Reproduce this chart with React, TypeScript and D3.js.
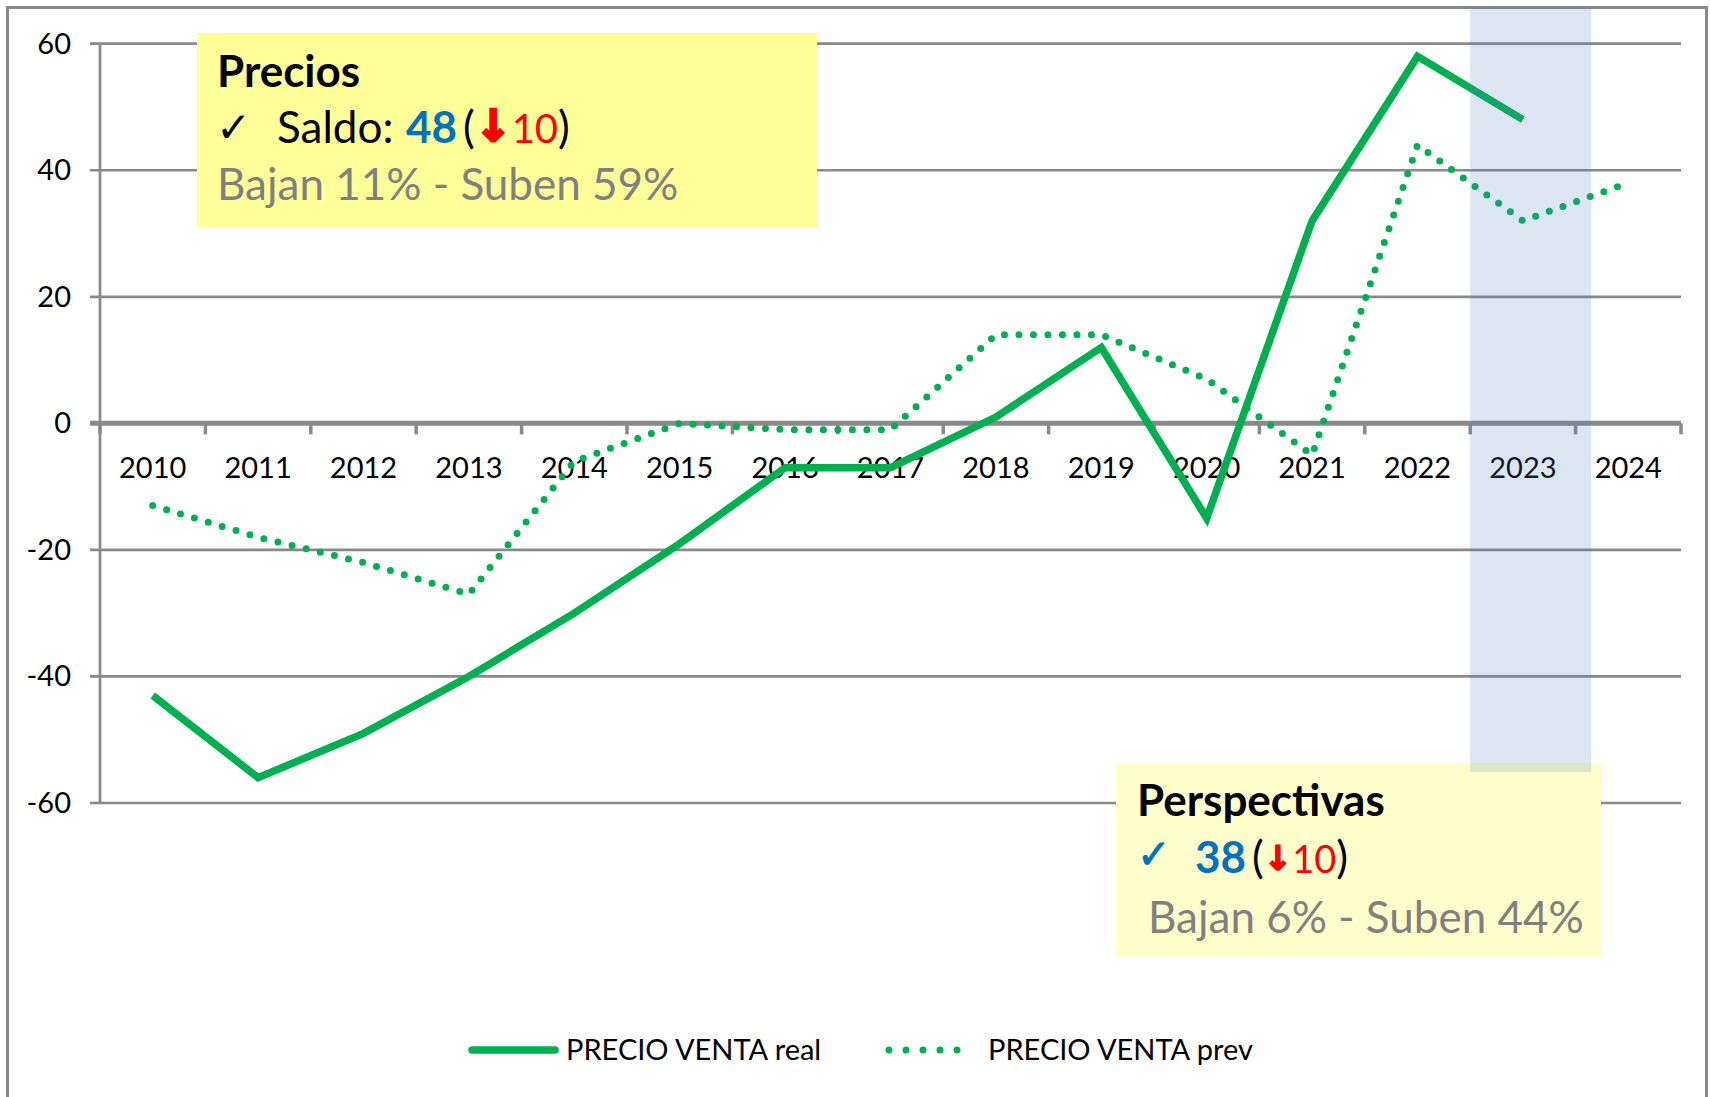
import * as d3 from 'd3';

// categories and series
const years = ['2010', '2011', '2012', '2013', '2014', '2015', '2016', '2017', '2018', '2019', '2020', '2021', '2022', '2023', '2024'];
const realValues: (number | null)[] = [-43, -56, -49, -40, -30, -19, -7, -7, 1, 12, -15, 32, 58, 48, null];
const prevValues: (number | null)[] = [-13, -18, -22, -27, -6, 0, -1, -1, 14, 14, 7, -5, 44, 32, 38];
const yTicks = [60, 40, 20, 0, -20, -40, -60];
const highlightYear = '2023';
const seriesNames = ['PRECIO VENTA real', 'PRECIO VENTA prev'];

const W = 1710;
const H = 1097;
const GREEN = '#00B050';
const GRID = '#898989';
const FONT = 'Lato, "Open Sans", sans-serif';
const SYM = '"DejaVu Sans", sans-serif';

export default function App() {
  const x = d3.scaleBand<string>().domain(years).range([100, 1681]).padding(0);
  const y = d3.scaleLinear().domain([-60, 60]).range([803, 43.7]);
  const cx = (yr: string) => (x(yr) ?? 0) + x.bandwidth() / 2;

  const line = d3
    .line<number | null>()
    .defined((d) => d != null)
    .x((_, i) => cx(years[i]))
    .y((d) => y(d as number));

  const boundaries = d3.range(years.length + 1).map((i) => 100 + i * x.step());
  const bandX = x(highlightYear) ?? 0;

  return (
    <div style={{ position: 'absolute', left: 0, top: 0 }}>
      <svg width={W} height={H} style={{ display: 'block', background: '#fff' }}>
        {/* outer frame, open at the bottom */}
        <path d={`M7.5,${H + 5} V7.5 H1706.5 V${H + 5}`} fill="none" stroke={GRID} strokeWidth={3} />

        {/* gridlines + y ticks */}
        {yTicks.filter((t) => t !== 0).map((t) => (
          <line key={t} x1={90} x2={1681} y1={y(t)} y2={y(t)} stroke={GRID} strokeWidth={2.7} />
        ))}
        {yTicks.map((t) => (
          <text key={'l' + t} x={71} y={y(t) + 10} textAnchor="end" fontFamily={FONT} fontSize={29} fill="#000">
            {t}
          </text>
        ))}
        {/* y axis */}
        <line x1={100} x2={100} y1={y(60)} y2={y(-60)} stroke={GRID} strokeWidth={2.7} />

        {/* zero axis with category ticks */}
        <line x1={90} x2={1681} y1={y(0)} y2={y(0)} stroke={GRID} strokeWidth={5} />
        {boundaries.map((bx, i) => (
          <line key={i} x1={bx} x2={bx} y1={y(0)} y2={y(0) + 11} stroke={GRID} strokeWidth={3.5} />
        ))}
        {years.map((yr) => (
          <text key={yr} x={cx(yr)} y={478} textAnchor="middle" fontFamily={FONT} fontSize={29} fill="#000">
            {yr}
          </text>
        ))}

        {/* series */}
        <path d={line(prevValues) ?? ''} fill="none" stroke={GREEN} strokeWidth={7} strokeDasharray="0 14.5" strokeLinecap="round" />
        <path d={line(realValues) ?? ''} fill="none" stroke={GREEN} strokeWidth={7.5} strokeLinejoin="miter" />

        {/* Precios box */}
        <rect x={197} y={33} width={620} height={194} fill="#FFFF99" />
        <text x={217} y={87} fontFamily={FONT} fontSize={44} fontWeight="bold" fill="#000">Precios</text>
        <text x={216} y={142} fontFamily={SYM} fontSize={42} fill="#000">✓</text>
        <text y={143} fontFamily={FONT} fontSize={44}>
          <tspan x={277} fill="#000">Saldo:</tspan>
          <tspan x={406} fontWeight="bold" fill="#0070C0">48</tspan>
        </text>
        <text x={463} y={143} fontFamily={FONT} fontSize={44} fill="#000">
          <tspan>(</tspan>
          <tspan fontFamily={SYM} fontWeight="bold" fill="#FF0000" stroke="#FF0000" strokeWidth={2.5} dy={-2}>↓</tspan>
          <tspan fill="#FF0000" fontSize={40} dy={2}>10</tspan>
          <tspan>)</tspan>
        </text>
        <text x={217} y={200} fontFamily={FONT} fontSize={44} fill="#808080">Bajan 11% - Suben 59%</text>

        {/* Perspectivas box */}
        <rect x={1116} y={763} width={485} height={194} fill="#FFFFCC" />
        <text x={1137} y={816} fontFamily={FONT} fontSize={44} fontWeight="bold" fill="#000">Perspectivas</text>
        <text x={1137} y={868} fontFamily={SYM} fontSize={40} fill="#0070C0" stroke="#0070C0" strokeWidth={1}>✓</text>
        <text y={873} fontFamily={FONT} fontSize={44}>
          <tspan x={1195} fontWeight="bold" fill="#0070C0">38</tspan>
        </text>
        <text x={1252} y={873} fontFamily={FONT} fontSize={44} fill="#000">
          <tspan>(</tspan>
          <tspan fontFamily={SYM} fontSize={34} fontWeight="bold" fill="#FF0000" stroke="#FF0000" strokeWidth={1.5} dy={-3}>↓</tspan>
          <tspan fill="#FF0000" fontSize={38} dy={3}>10</tspan>
          <tspan>)</tspan>
        </text>
        <text x={1148} y={933} fontFamily={FONT} fontSize={44} fill="#808080">Bajan 6% - Suben 44%</text>

        {/* highlighted year band, drawn translucent over everything */}
        <rect x={bandX} y={7.5} width={121} height={772 - 7.5} fill="#4F81BD" opacity={0.2} />

        {/* legend */}
        <line x1={472} x2={555} y1={1050} y2={1050} stroke={GREEN} strokeWidth={7.5} strokeLinecap="round" />
        <text x={566} y={1060} fontFamily={FONT} fontSize={29} fill="#000">{seriesNames[0]}</text>
        <line x1={889} x2={974} y1={1050} y2={1050} stroke={GREEN} strokeWidth={7} strokeDasharray="0 17" strokeLinecap="round" />
        <text x={988} y={1060} fontFamily={FONT} fontSize={29} fill="#000">{seriesNames[1]}</text>
      </svg>
    </div>
  );
}
